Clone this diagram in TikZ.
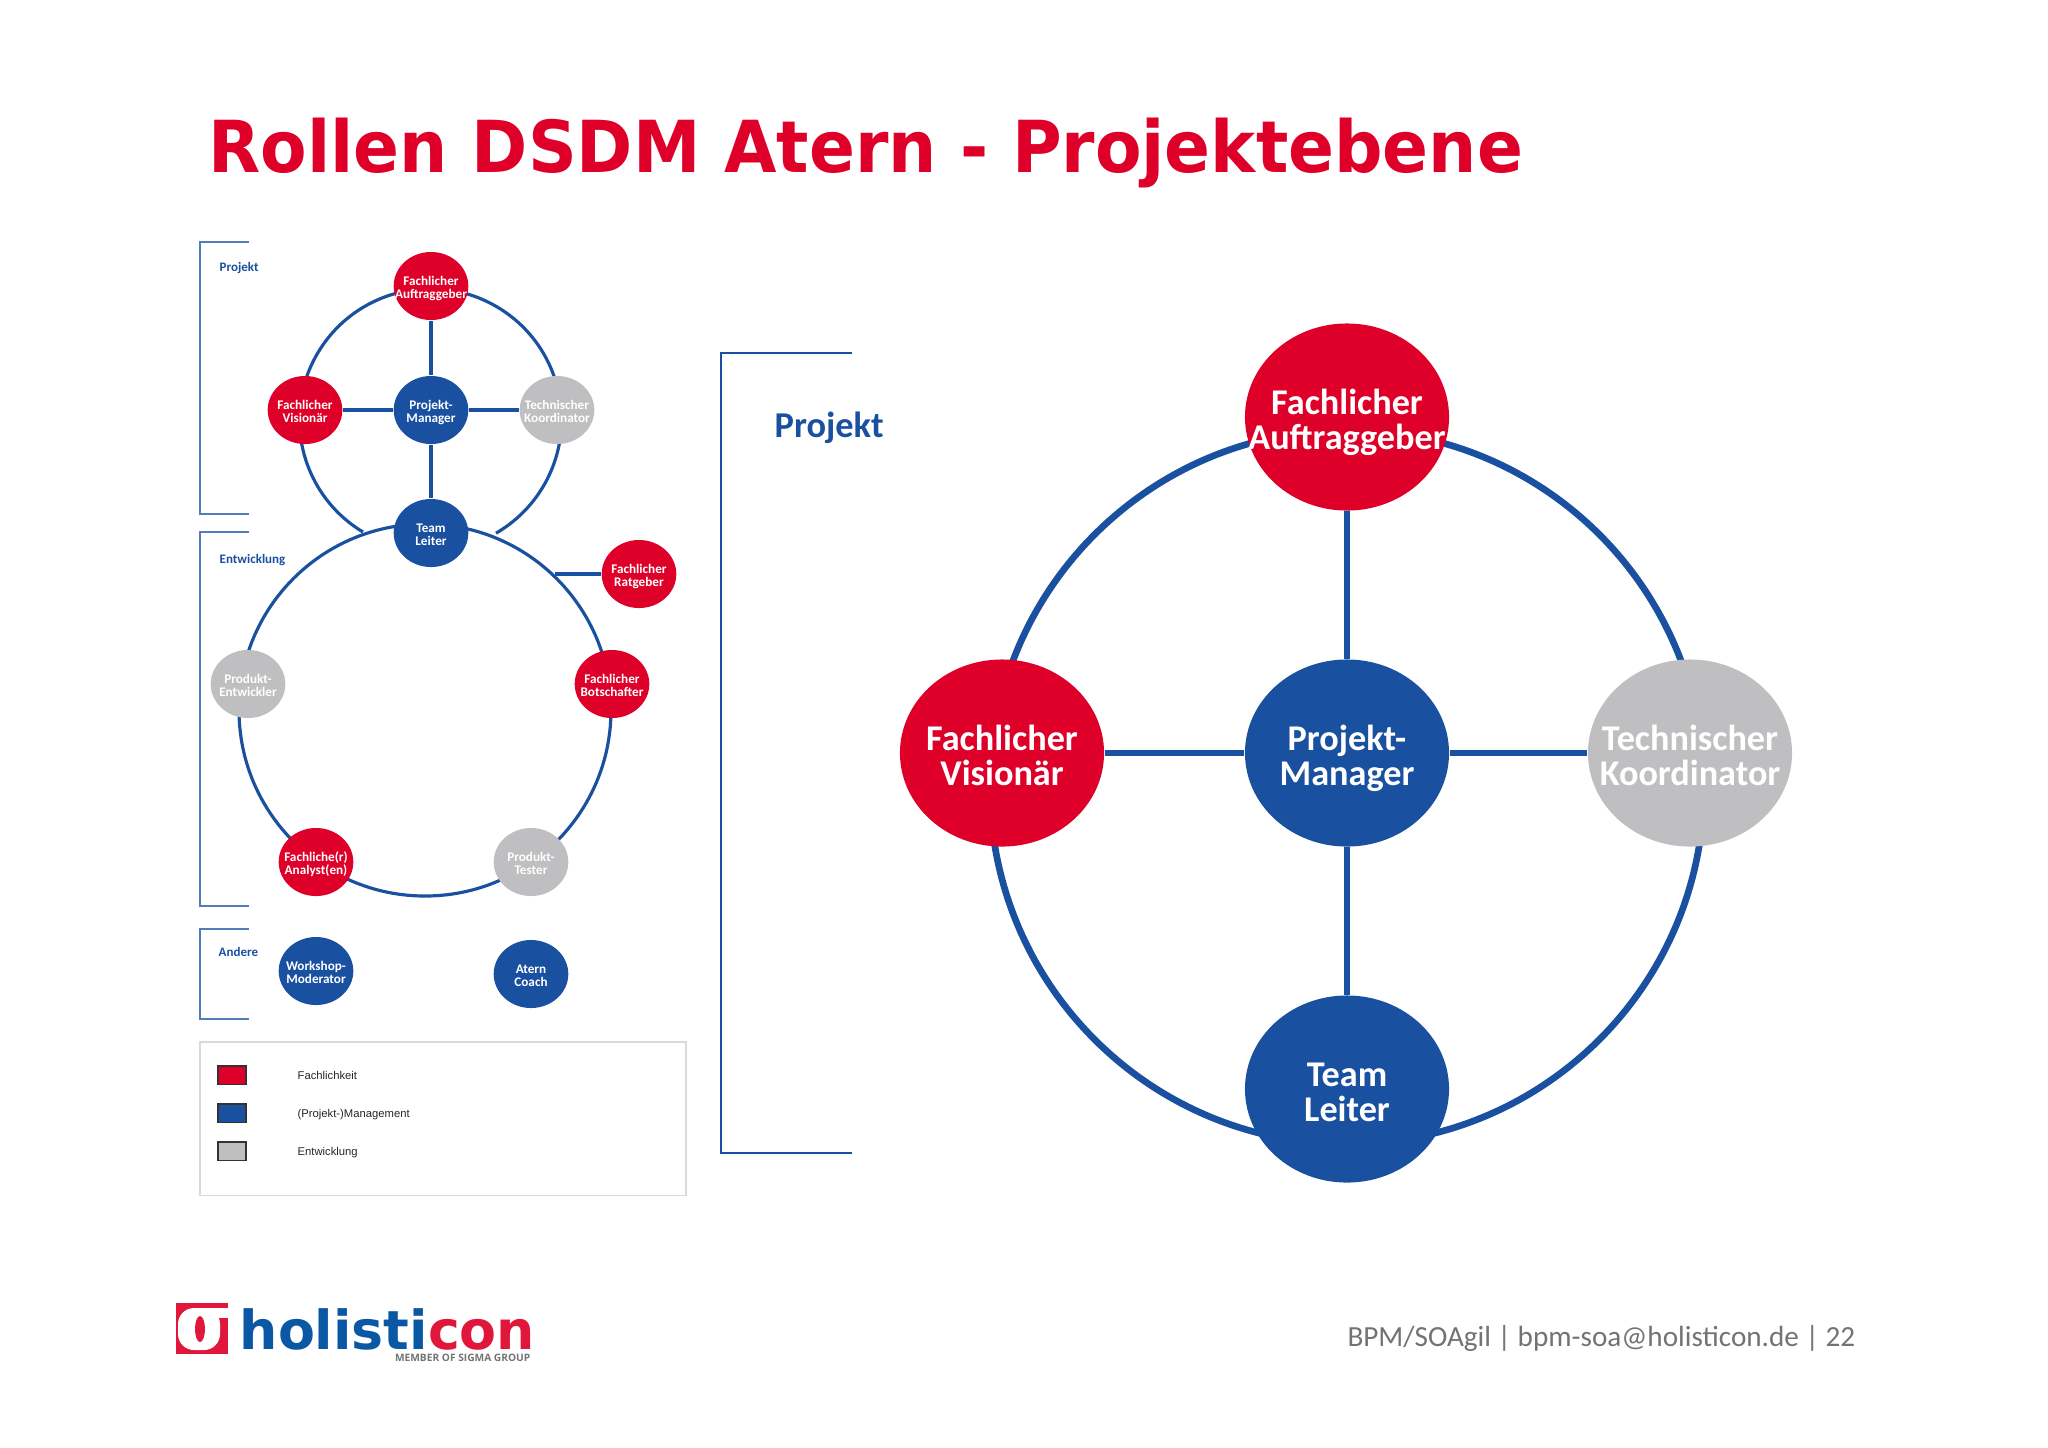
\documentclass[tikz,border=0pt]{standalone}
\usepackage{fontspec}
\setmainfont{Carlito}
\newfontfamily\titlefont{DejaVu Sans}
\newfontfamily\legendfont{Liberation Sans}
\newfontfamily\memberfont{Open Sans}
\usepackage{tikz}
\usetikzlibrary{shapes.geometric,backgrounds}
\definecolor{hcred}{HTML}{DE0029}
\definecolor{hcblue}{HTML}{1A50A0}
\definecolor{hcgrey}{HTML}{BFBEC0}
\definecolor{logoblue}{HTML}{0A57A4}
\definecolor{logored}{HTML}{E0163A}
\tikzset{
    smallrole/.style={ellipse,inner sep=-1cm,minimum width=.746cm,minimum height=.68cm,text=white,align=center,
        text height=6.9pt,text depth=0pt,font=\fontsize{3.75}{3.7}\selectfont\bfseries},
    bigrole/.style={ellipse,inner sep=-2cm,minimum width=2.04cm,minimum height=1.87cm,text=white,align=center,
        text height=18.6pt,text depth=0pt,font=\fontsize{10.3}{10}\selectfont\bfseries},
    smalllink/.style={draw=hcblue,line width=.9pt},
    biglink/.style={draw=hcblue,line width=1.9pt},
    smallbracket/.style={draw=hcblue!75,line width=.4pt},
    swatch/.style={draw=black!80,line width=.3pt,minimum width=.28cm,minimum height=.18cm,inner sep=0pt},
    legendtext/.style={anchor=west,inner sep=0pt,text=black!85,font=\fontsize{3.2}{4}\selectfont\legendfont}
}
\begin{document}
\begin{tikzpicture}[x=.01cm,y=.01cm]
    \useasboundingbox (0,-1447) rectangle (2048,0);

    \node[anchor=base west,inner sep=0pt,xscale=.945,text=hcred,font=\fontsize{20.4}{24}\selectfont\titlefont\bfseries] (title) at (208,-172) {Rollen DSDM Atern - Projektebene};

    % brackets on the left
    \draw[smallbracket] (249,-242) -- (200,-242) -- (200,-514) -- (249,-514);
    \draw[smallbracket] (249,-532) -- (200,-532) -- (200,-906) -- (249,-906);
    \draw[smallbracket] (249,-929) -- (200,-929) -- (200,-1019) -- (249,-1019);
    \node[anchor=west,inner sep=0pt,text=hcblue,font=\fontsize{3.7}{4}\selectfont\bfseries] (labelprojekt) at (219,-268) {Projekt};
    \node[anchor=west,inner sep=0pt,text=hcblue,font=\fontsize{3.7}{4}\selectfont\bfseries] (labelentwicklung) at (219,-560) {Entwicklung};
    \node[anchor=west,inner sep=0pt,text=hcblue,font=\fontsize{3.7}{4}\selectfont\bfseries] (labelandere) at (218,-952) {Andere};

    % small diagram
    \node[smallrole,fill=hcred] (sauftrag) at (431,-286) {Fachlicher\\Auftraggeber};
    \node[smallrole,fill=hcred] (svisionaer) at (305,-410) {Fachlicher\\Visionär};
    \node[smallrole,fill=hcblue] (smanager) at (431,-410) {Projekt-\\Manager};
    \node[smallrole,fill=hcgrey] (skoord) at (557,-410) {Technischer\\Koordinator};
    \node[smallrole,fill=hcblue] (sleiter) at (431,-533) {Team\\Leiter};
    \node[smallrole,fill=hcred] (sratgeber) at (639,-574) {Fachlicher\\Ratgeber};
    \node[smallrole,fill=hcred] (sbotschafter) at (612,-684) {Fachlicher\\Botschafter};
    \node[smallrole,fill=hcgrey] (sentwickler) at (248,-684) {Produkt-\\Entwickler};
    \node[smallrole,fill=hcred] (sanalyst) at (316,-862) {Fachliche(r)\\Analyst(en)};
    \node[smallrole,fill=hcgrey] (stester) at (531,-862) {Produkt-\\Tester};
    \node[smallrole,fill=hcblue] (smoderator) at (316,-971) {Workshop-\\Moderator};
    \node[smallrole,fill=hcblue] (scoach) at (531,-974) {Atern\\Coach};
    \coordinate (sjoin) at (363,-532);
    \coordinate (sringtop) at (425,-524);
    \coordinate (sratgeberend) at (555,-574);
    \begin{scope}[on background layer]
        \draw[smalllink] (sjoin) arc[start angle=239,end angle=-60,radius=131];
        \draw[smalllink] (sringtop) arc[start angle=90,end angle=450,radius=186];
    \end{scope}
    \draw[smalllink] (sauftrag) -- (smanager);
    \draw[smalllink] (smanager) -- (sleiter);
    \draw[smalllink] (svisionaer) -- (smanager);
    \draw[smalllink] (smanager) -- (skoord);
    \draw[smalllink] (sratgeberend) -- (sratgeber);

    % legend
    \draw[black!15,line width=.3pt] (200,-1042) rectangle (686,-1195);
    \node[swatch,fill=hcred] (swred) at (232,-1075) {};
    \node[swatch,fill=hcblue] (swblue) at (232,-1113) {};
    \node[swatch,fill=hcgrey] (swgrey) at (232,-1151) {};
    \node[legendtext] (ltred) at (297,-1075) {Fachlichkeit};
    \node[legendtext] (ltblue) at (297,-1115) {(Projekt-)Management};
    \node[legendtext] (ltgrey) at (297,-1153) {Entwicklung};

    % big diagram
    \draw[hcblue,line width=.65pt] (852,-353) -- (721,-353) -- (721,-1153) -- (852,-1153);
    \node[anchor=west,inner sep=0pt,text=hcblue,font=\fontsize{10.35}{12}\selectfont\bfseries] (bigprojekt) at (774,-428) {Projekt};
    \node[bigrole,fill=hcred] (bauftrag) at (1347,-417) {Fachlicher\\Auftraggeber};
    \node[bigrole,fill=hcred] (bvisionaer) at (1002,-753) {Fachlicher\\Visionär};
    \node[bigrole,fill=hcblue] (bmanager) at (1347,-753) {Projekt-\\Manager};
    \node[bigrole,fill=hcgrey] (bkoord) at (1690,-753) {Technischer\\Koordinator};
    \node[bigrole,fill=hcblue] (bleiter) at (1347,-1089) {Team\\Leiter};
    \coordinate (bringtop) at (1347,-430);
    \begin{scope}[on background layer]
        \draw[biglink] (bringtop) arc[start angle=90,end angle=450,radius=357];
    \end{scope}
    \draw[biglink] (bauftrag) -- (bmanager);
    \draw[biglink] (bmanager) -- (bleiter);
    \draw[biglink] (bvisionaer) -- (bmanager);
    \draw[biglink] (bmanager) -- (bkoord);

    % logo and footer
    \fill[logored] (176,-1303) rectangle (228,-1354);
    \fill[white,rounded corners=.16cm] (178,-1308) rectangle (220,-1350);
    \fill[white] (200,-1308) rectangle (228,-1318);
    \fill[logored] (200,-1329) ellipse[x radius=5,y radius=13];
    \node[anchor=base west,inner sep=0pt,font=\fontsize{15.3}{16}\selectfont\titlefont\bfseries] (logotext) at (239,-1349) {\textcolor{logoblue}{holisti}\textcolor{logored}{con}};
    \node[anchor=base east,inner sep=0pt,text=black!55,font=\fontsize{2.9}{3}\selectfont\memberfont\bfseries] (member) at (531,-1361) {MEMBER OF SIGMA GROUP};
    \node[anchor=east,inner sep=0pt,text=black!55,font=\fontsize{8.3}{10}\selectfont] (footer) at (1856,-1338) {BPM/SOAgil | bpm-soa@holisticon.de | 22};
\end{tikzpicture}
\end{document}
